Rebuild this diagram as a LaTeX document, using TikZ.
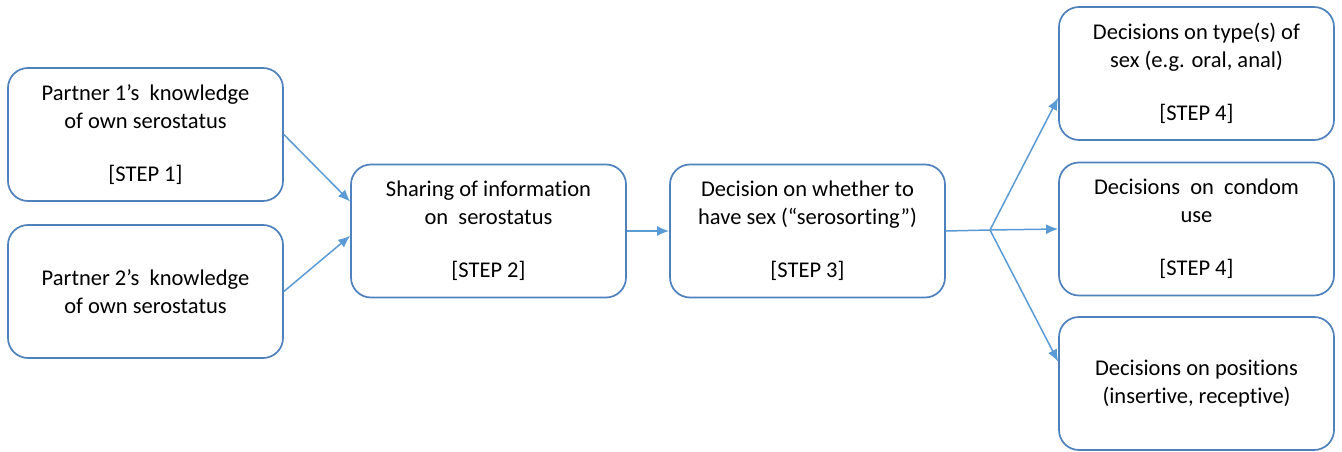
\documentclass[tikz,border=0pt]{standalone}
\usepackage{fontspec}
\setmainfont{Carlito}[Ligatures=NoCommon]
\usetikzlibrary{arrows.meta}

\begin{document}
\begin{tikzpicture}[x=1pt,y=1pt,
  stepbox/.style={draw=boxColor,line width=1.7pt,rounded corners=20pt,fill=white,
    minimum width=275pt,minimum height=133pt,inner sep=0pt,align=center,
    font=\fontsize{22.5}{28}\selectfont},
  flow/.style={draw=lineColor,line width=1.5pt,-{Latex[length=12pt,width=10pt]}}]
\definecolor{fillColor}{RGB}{255,255,255}
\definecolor{boxColor}{RGB}{79,129,189}
\definecolor{lineColor}{RGB}{91,155,213}
\path[use as bounding box,fill=fillColor] (0,0) rectangle (1342,451);

\node[stepbox] (partnerA) at ( 145.5,316.5) {Partner 1’s\ \ knowledge\\of own serostatus\\[25pt]{[STEP 1]}};
\node[stepbox] (partnerB) at ( 145.5,159.5) {Partner 2’s\ \ knowledge\\of own serostatus};
\node[stepbox] (sharing) at ( 488.5,220.0) {Sharing of information\\on\ \ serostatus\\[25pt]{[STEP 2]}};
\node[stepbox] (whether) at ( 807.5,220.0) {Decision on whether to\\have sex (“serosorting”)\\[25pt]{[STEP 3]}};
\node[stepbox] (sextype) at (1196.5,377.5) {Decisions\ on\ type(s)\ of\\sex (e.g. oral, anal)\\[25pt]{[STEP 4]}};
\node[stepbox] (condom) at (1196.5,222.0) {Decisions\ \ on\ \ condom\\use\\[25pt]{[STEP 4]}};
\node[stepbox] (position) at (1196.5, 67.5) {Decisions\ on\ positions\\(insertive, receptive)};
\coordinate (fork) at (990,221);

\path[flow] (partnerA.east) -- (sharing.168);
\path[flow] (partnerB.east) -- (sharing.182);
\path[flow] (sharing.east) -- (whether.west);
\path[draw=lineColor,line width=1.5pt] (whether.east) -- (fork);
\path[flow] (fork) -- (sextype.190);
\path[flow] (fork) -- (condom.west);
\path[flow] (fork) -- (position.171);
\end{tikzpicture}
\end{document}
